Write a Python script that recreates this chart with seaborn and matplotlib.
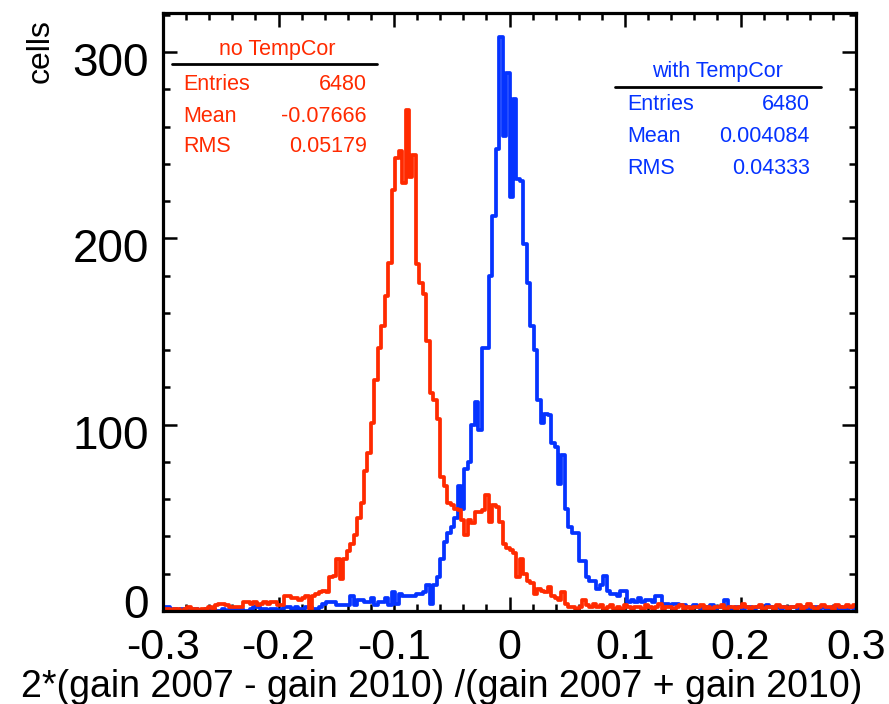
import numpy as np
import pandas as pd
import matplotlib
matplotlib.use("Agg")
import matplotlib.pyplot as plt
from matplotlib.lines import Line2D
from matplotlib.ticker import MultipleLocator, FixedLocator, FixedFormatter
from matplotlib.transforms import ScaledTranslation
import seaborn as sns

# ---------------- data ----------------
x_min, x_max, n_bins = -0.3, 0.3, 200

red_counts = [
    1, 1, 0, 1, 1, 0, 1, 2, 1, 1, 0, 1, 1, 2, 1,
    3, 4, 4, 3,
    2, 2, 2, 2,
    5, 5, 4, 5,
    3,
    4, 5, 4,
    5, 5,
    3, 3,
    8, 8,
    7, 7, 6, 7,
    8,
    1,
    8, 9,
    10, 11, 10,
    18, 19,
    28, 17, 28,
    32, 36, 41, 50, 58, 75, 85, 101,
    124, 141, 153, 169, 187, 226, 243, 247, 230, 269,
    233, 245, 186, 176, 170, 145, 117, 113, 103, 72,
    67, 58, 57, 55, 54, 49, 41, 49, 47, 53,
    53, 54, 62, 48, 57, 56, 48, 36, 34, 33,
    31, 18, 28, 20, 16, 15, 9, 12, 11, 10,
    13, 8, 7, 6, 10, 4, 2, 2, 1, 2,
    6, 3, 2, 4, 2, 3, 1, 2, 3, 1,
    2, 1, 3, 2, 1, 2, 2, 1, 3, 2,
    1, 2, 4, 1, 2, 2, 1, 2, 3, 1,
    2, 1, 2, 2, 3, 1, 2, 1, 2, 2,
    3, 1, 2, 2, 1, 2, 4, 2, 1, 2,
    2, 3, 1, 2, 2, 1, 3, 2, 2, 1,
    2, 2, 3, 1, 2, 4, 2, 1, 2, 3,
    2, 2, 1, 3, 2, 2, 3, 2, 3,
]

blue_counts = [
    2, 2, 0, 1, 0, 1, 1, 0, 0, 1,
    0, 0, 1, 0, 1, 0, 0, 1, 0, 1,
    1, 0, 1, 0, 0, 1, 2, 2, 1, 1,
    0, 1, 1, 0, 1, 2, 2, 1, 2, 1,
    1, 2, 2, 1, 1, 2,
    4, 5, 5, 5, 3, 3, 3, 3, 8, 3,
    6, 6, 5, 5, 7, 3, 5, 5, 7, 3,
    10, 4, 9, 8, 8, 8, 8, 9, 9, 10,
    14, 4, 14, 18, 28, 37, 42, 45, 50, 67,
    55, 76, 80, 100, 112, 97, 141, 141, 180, 212,
    248, 308, 255, 289, 222, 275, 232, 231, 197, 176,
    153, 140, 113, 101, 106, 105, 90, 88, 68, 84,
    55, 45, 42, 42, 27, 27, 18, 16, 16, 12,
    14, 19, 11, 9, 9, 8, 11, 11, 5, 6,
    5, 7, 5, 6, 6, 5, 8, 8, 4, 4, 3, 4, 4, 3,
    3, 2, 2, 3, 2, 1, 2, 2, 3, 1,
    2, 2, 6, 2, 1, 2, 2, 1, 2, 2,
    1, 2, 2, 1, 3, 2, 1, 2, 1, 2,
    1, 2, 2, 1, 1, 2, 1, 2, 2, 1,
    2, 1, 1, 2, 1, 2, 1, 1, 2, 1,
]

x_ticks = [-0.3, -0.2, -0.1, 0.0, 0.1, 0.2, 0.3]
x_tick_labels = ["-0.3", "-0.2", "-0.1", "0", "0.1", "0.2", "0.3"]
y_ticks = [0, 100, 200, 300]
y_tick_labels = ["0", "100", "200", "300"]

red_stats = [("Entries", "6480"), ("Mean", "-0.07666"), ("RMS", "0.05179")]
blue_stats = [("Entries", "6480"), ("Mean", "0.004084"), ("RMS", "0.04333")]
red_title = "no TempCor"
blue_title = "with TempCor"
x_title = "2*(gain 2007 - gain 2010) /(gain 2007 + gain 2010)"
y_title = "cells"

# ---------------- plot ----------------
sns.set_theme(style="white")
plt.rcParams["font.family"] = ["Liberation Sans", "DejaVu Sans"]
plt.rcParams["axes.unicode_minus"] = False
plt.rcParams["text.color"] = "black"
plt.rcParams["xtick.color"] = "black"
plt.rcParams["ytick.color"] = "black"
plt.rcParams["xtick.labelcolor"] = "black"
plt.rcParams["ytick.labelcolor"] = "black"

RED = "#ff2a00"
BLUE = "#0533ff"

W, H = 889, 704
fig = plt.figure(figsize=(W / 100, H / 100), dpi=100)
fig.patch.set_facecolor("white")

def fx(px):
    return px / W

def fy(py):
    return 1 - py / H

ax = fig.add_axes([fx(163), fy(611), fx(856) - fx(163), fy(13) - fy(611)])
ax.set_facecolor("white")

bin_width = (x_max - x_min) / n_bins
centers = x_min + bin_width * (np.arange(n_bins) + 0.5)
df_blue = pd.DataFrame({"x": centers, "w": blue_counts})
df_red = pd.DataFrame({"x": centers, "w": red_counts})

LW = 2.7
sns.histplot(data=df_blue, x="x", weights="w", binwidth=bin_width, binrange=(x_min, x_max),
             element="step", fill=False, color=BLUE, linewidth=LW, ax=ax)
sns.histplot(data=df_red, x="x", weights="w", binwidth=bin_width, binrange=(x_min, x_max),
             element="step", fill=False, color=RED, linewidth=LW, ax=ax)

ax.set_xlim(x_min, x_max)
ax.set_ylim(0, 321)
ax.set_xlabel("")
ax.set_ylabel("")

for s in ax.spines.values():
    s.set_visible(True)
    s.set_color("black")
    s.set_linewidth(2.3)
    s.set_zorder(5)

ax.xaxis.set_major_locator(FixedLocator(x_ticks))
ax.xaxis.set_major_formatter(FixedFormatter(x_tick_labels))
ax.xaxis.set_minor_locator(MultipleLocator(0.02))
ax.yaxis.set_major_locator(FixedLocator(y_ticks))
ax.yaxis.set_major_formatter(FixedFormatter(y_tick_labels))
ax.yaxis.set_minor_locator(MultipleLocator(20))

ax.tick_params(which="both", direction="in", top=True, right=True,
               bottom=True, left=True, color="black", width=1.8)
ax.tick_params(which="major", length=10)
ax.tick_params(which="minor", length=5)
ax.tick_params(axis="x", which="major", labelsize=31, pad=12.5, labelcolor="black")
ax.tick_params(axis="y", which="major", labelsize=33, pad=10, labelcolor="black")

for lbl in ax.get_yticklabels():
    dy = 0.1 if lbl.get_text() == "0" else -0.07
    lbl.set_transform(lbl.get_transform() + ScaledTranslation(0, dy, fig.dpi_scale_trans))
    lbl.set_color("black")
for lbl in ax.get_xticklabels():
    lbl.set_color("black")

# axis titles
fig.text(fx(862), fy(687), x_title, ha="right", va="center", fontsize=27, color="black")
fig.text(fx(41), fy(83), y_title, ha="center", va="bottom", rotation=90, fontsize=23, color="black")

# stat boxes
FS = 15.5
def stat_box(title, rows, color, title_xy, line_x0, line_x1, line_y, row_ys, lab_x, val_x):
    fig.text(fx(title_xy[0]), fy(title_xy[1]), title, ha="center", va="center",
             fontsize=FS, color=color)
    fig.add_artist(Line2D([fx(line_x0), fx(line_x1)], [fy(line_y), fy(line_y)],
                          color="black", linewidth=2.0, transform=fig.transFigure))
    for (lab, val), ry in zip(rows, row_ys):
        fig.text(fx(lab_x), fy(ry), lab, ha="left", va="center", fontsize=FS, color=color)
        fig.text(fx(val_x), fy(ry), val, ha="right", va="center", fontsize=FS, color=color)

stat_box(red_title, red_stats, RED, (277, 49), 172, 377, 63.5, [85, 116, 147], 183, 367)
stat_box(blue_title, blue_stats, BLUE, (717, 71), 615, 821, 87, [105, 137, 168], 627, 810)

fig.savefig("out.png", dpi=100, facecolor="white")
